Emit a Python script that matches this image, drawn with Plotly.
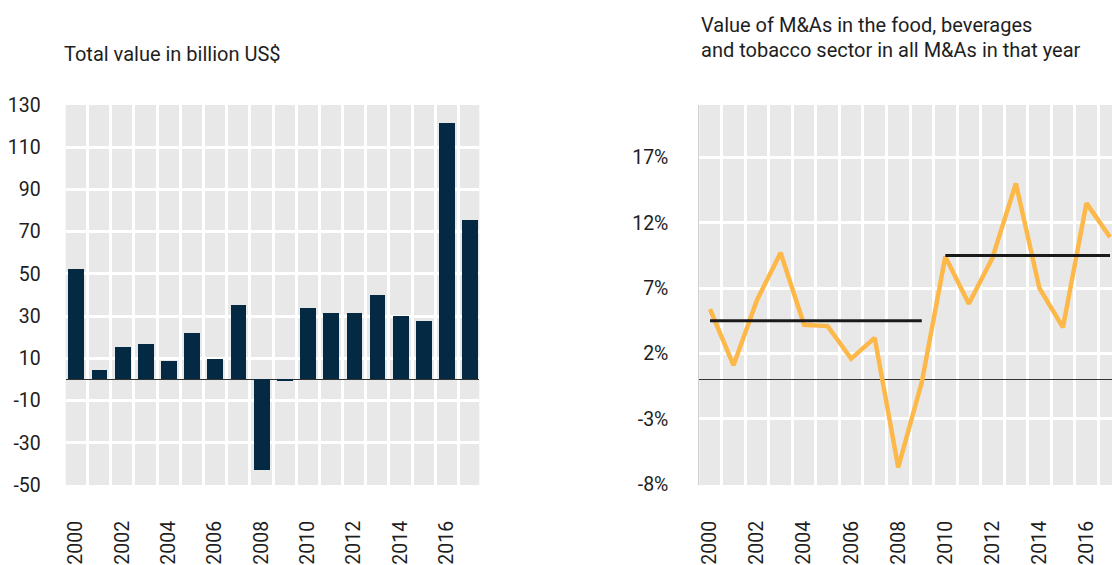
import plotly.graph_objects as go

years = list(range(2000, 2018))
total_value = [52.5, 4.4, 15.4, 16.8, 8.7, 22.1, 9.7, 35.4, -42.7, -0.8,
               34.0, 31.6, 31.6, 40.2, 30.2, 27.8, 121.6, 75.4]
share_pct = [5.4, 1.1, 6.1, 9.7, 4.2, 4.1, 1.6, 3.2, -6.7, -0.2,
             9.4, 5.8, 9.3, 15.0, 7.0, 4.0, 13.5, 10.9]
avg_periods = [(2000, 2009, 4.5), (2010, 2017, 9.5)]

left_ticks = [130, 110, 90, 70, 50, 30, 10, -10, -30, -50]
right_ticks = [17, 12, 7, 2, -3, -8]
year_ticks = list(range(2000, 2017, 2))

FONT = "Roboto, Liberation Sans Narrow, sans-serif"
BAR = "#042A43"
LINE = "#FDB84A"
PANEL = "#E8E8E8"
TXT = "#1E1E1E"

W, H = 1112, 565
fig = go.Figure()

fig.add_trace(go.Bar(x=years, y=total_value, marker_color=BAR, marker_line_width=0,
                     width=0.68, xaxis="x", yaxis="y", showlegend=False))

fig.add_trace(go.Scatter(x=years, y=share_pct, mode="lines",
                         line=dict(color=LINE, width=4.5), xaxis="x2", yaxis="y2",
                         showlegend=False))
for x0, x1, v in avg_periods:
    fig.add_trace(go.Scatter(x=[x0, x1], y=[v, v], mode="lines",
                             line=dict(color="#1A1A1A", width=3), xaxis="x2", yaxis="y2",
                             showlegend=False))

ydom = [(H - 485) / H, (H - 105) / H]

xcommon = dict(
    showgrid=False, zeroline=False, showline=False,
    tickmode="array", tickvals=year_ticks, ticktext=[str(y) for y in year_ticks],
    tickangle=-90, ticks="", ticklabelstandoff=31,
    tickfont=dict(family=FONT, size=19.5, color=TXT),
    minor=dict(tickmode="linear", tick0=1999.5, dtick=1, showgrid=True,
               gridcolor="white", gridwidth=2.7, ticks=""),
    automargin=False, fixedrange=True,
)

fig.update_layout(
    width=W, height=H,
    margin=dict(l=0, r=0, t=0, b=0),
    paper_bgcolor="white", plot_bgcolor=PANEL,
    bargap=0,
    xaxis=dict(domain=[65.7 / W, 479.3 / W], range=[1999.556, 2017.40], anchor="y", **xcommon),
    yaxis=dict(domain=ydom, range=[-50, 130], tickmode="array", tickvals=left_ticks,
               ticktext=[str(t) for t in left_ticks],
               showgrid=True, gridcolor="white", gridwidth=2.7,
               zeroline=True, zerolinecolor="#333333", zerolinewidth=1.2,
               showline=False, ticks="", ticklabelstandoff=24,
               tickfont=dict(family=FONT, size=19.5, color=TXT),
               anchor="x", automargin=False, fixedrange=True),
    xaxis2=dict(domain=[699.3 / W, 1.0], range=[1999.545, 2017.085], anchor="y2", **xcommon),
    yaxis2=dict(domain=ydom, range=[-8.05, 21], tickmode="array", tickvals=right_ticks,
                ticktext=[f"{t}%" for t in right_ticks],
                showgrid=True, gridcolor="white", gridwidth=2.7,
                zeroline=True, zerolinecolor="#333333", zerolinewidth=1.2,
                showline=True, linecolor="#D0D0D0", linewidth=1,
                ticks="", ticklabelstandoff=26,
                tickfont=dict(family=FONT, size=19.5, color=TXT),
                anchor="x2", automargin=False, fixedrange=True),
    annotations=[
        dict(text="Total value in billion US$", x=62 / W, y=(H - 68) / H,
             xref="paper", yref="paper", xanchor="left", yanchor="bottom",
             showarrow=False, font=dict(family=FONT, size=20, color=TXT)),
        dict(text="Value of M&As in the food, beverages", x=699 / W, y=(H - 39) / H,
             xref="paper", yref="paper", xanchor="left", yanchor="bottom",
             showarrow=False, font=dict(family=FONT, size=20, color=TXT)),
        dict(text="and tobacco sector in all M&As in that year", x=699 / W, y=(H - 64) / H,
             xref="paper", yref="paper", xanchor="left", yanchor="bottom",
             showarrow=False, font=dict(family=FONT, size=20, color=TXT)),
    ],
)

fig.write_html("out.html", config={"displayModeBar": False})
